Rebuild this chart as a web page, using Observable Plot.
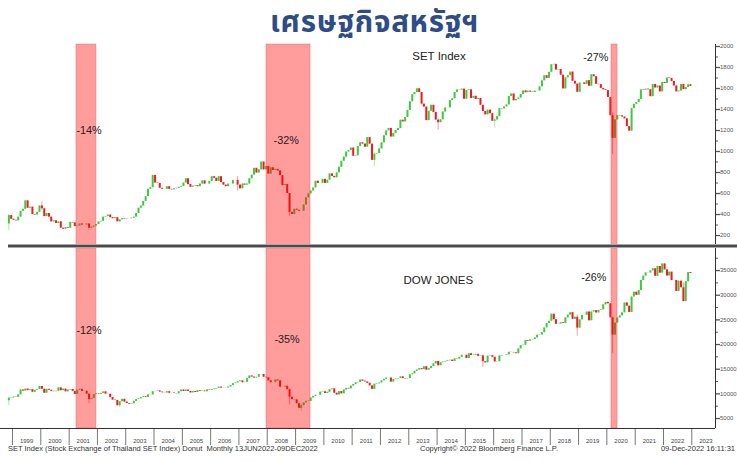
<!DOCTYPE html>
<html>
<head>
<meta charset="utf-8">
<script src="https://cdn.jsdelivr.net/npm/d3@7"></script>
<script src="https://cdn.jsdelivr.net/npm/@observablehq/plot@0.6"></script>
<style>
  html, body { margin: 0; padding: 0; background: #fff; }
  body { width: 737px; height: 462px; overflow: hidden; position: relative; font-family: "Liberation Sans", Arial, sans-serif; }
  #title { position: absolute; left: 12px; top: 0px; width: 725px; text-align: center;
           font-family: "Noto Sans Thai", "Noto Sans Thai Looped", "Noto Sans", sans-serif; font-weight: 700;
           font-size: 29.5px; line-height: 46px; letter-spacing: 0.7px; color: #2e4d87; }
  #top { position: absolute; left: 0; top: 40px; }
  #bot { position: absolute; left: 0; top: 248px; }
  #sep { position: absolute; left: 8px; top: 244px; width: 729px; height: 4px; z-index: 5;
         background: linear-gradient(#a8a8a8 0 1px, #4a4a4a 1px 3px, #a8a8a8 3px 4px); }
  .foot { position: absolute; top: 444px; font-size: 7.5px; line-height: 9px; color: #333; white-space: nowrap; }
</style>
</head>
<body>
<div id="title">เศรษฐกิจสหรัฐฯ</div>
<div id="top"></div>
<div id="sep"></div>
<div id="bot"></div>
<div class="foot" id="f1" style="left:8px">SET Index (Stock Exchange of Thailand SET Index) Donut&nbsp; Monthly 13JUN2022-09DEC2022</div>
<div class="foot" id="f2" style="left:420px">Copyright© 2022 Bloomberg Finance L.P.</div>
<div class="foot" id="f3" style="right:2px">09-Dec-2022 16:11:31</div>
<script>
// ---------------- DATA ----------------
const firstMonth = [1998, 10]; // Nov 1998 (year, zero-based month)
const years = ["1999","2000","2001","2002","2003","2004","2005","2006","2007","2008","2009","2010",
               "2011","2012","2013","2014","2015","2016","2017","2018","2019","2020","2021","2022","2023"];

// SET Index monthly closes, Nov 1998 .. Dec 2022
const setOpen0 = 310;
const setClose = [
  390, 355,
  345, 340, 375, 430, 450, 530, 460, 470, 400, 395, 420, 482,
  455, 380, 410, 375, 330, 340, 315, 330, 270, 260, 275, 269,
  325, 320, 285, 290, 310, 300, 300, 310, 270, 280, 290, 304,
  330, 335, 375, 380, 395, 370, 360, 370, 330, 350, 360, 356,
  360, 360, 365, 375, 410, 460, 480, 525, 570, 640, 655, 772,
  700, 695, 650, 640, 640, 665, 640, 635, 645, 650, 660, 668,
  700, 740, 685, 660, 670, 675, 665, 690, 720, 690, 690, 714,
  760, 745, 715, 760, 705, 680, 665, 690, 690, 725, 725, 680,
  645, 690, 680, 690, 740, 775, 840, 795, 825, 900, 825, 858,
  785, 845, 820, 830, 815, 770, 675, 685, 600, 420, 400, 450,
  440, 431, 431, 491, 560, 597, 624, 653, 717, 696, 697, 735,
  697, 727, 787, 763, 750, 797, 850, 907, 947, 995, 1009, 1033,
  955, 960, 1047, 1083, 1071, 1041, 1132, 1070, 916, 975, 980, 1025,
  1083, 1150, 1196, 1220, 1138, 1172, 1200, 1219, 1298, 1282, 1324, 1392,
  1474, 1541, 1561, 1597, 1562, 1451, 1423, 1294, 1383, 1440, 1372, 1299,
  1274, 1302, 1376, 1414, 1415, 1485, 1502, 1562, 1586, 1584, 1594, 1498,
  1581, 1587, 1505, 1526, 1496, 1505, 1440, 1381, 1349, 1394, 1360, 1288,
  1300, 1332, 1408, 1405, 1424, 1444, 1524, 1548, 1483, 1496, 1509, 1543,
  1577, 1560, 1575, 1566, 1562, 1575, 1576, 1616, 1673, 1721, 1697, 1754,
  1826, 1830, 1776, 1780, 1727, 1596, 1701, 1722, 1756, 1669, 1642, 1564,
  1653, 1653, 1639, 1674, 1622, 1730, 1712, 1640, 1637, 1601, 1588, 1580,
  1514, 1341, 1125, 1301, 1342, 1339, 1328, 1311, 1237, 1194, 1408, 1449,
  1466, 1496, 1587, 1583, 1594, 1588, 1522, 1638, 1605, 1623, 1568, 1658,
  1648, 1700, 1695, 1667, 1624, 1568, 1576, 1639, 1589, 1609, 1635, 1620
];

// Dow Jones monthly closes, Nov 1998 .. Dec 2022
const dowOpen0 = 8592;
const dowClose = [
  9116, 9181,
  9359, 9307, 9786, 10789, 10560, 10971, 10655, 10829, 10337, 10729, 10878, 11497,
  10941, 10128, 10922, 10734, 10522, 10448, 10522, 11215, 10651, 10971, 10415, 10788,
  10887, 10495, 9879, 10735, 10912, 10502, 10523, 9950, 8848, 9075, 9852, 10021,
  9920, 10106, 10404, 9946, 9925, 9243, 8737, 8664, 7592, 8397, 8896, 8342,
  8054, 7891, 7992, 8480, 8850, 8985, 9234, 9416, 9275, 9801, 9782, 10454,
  10488, 10584, 10358, 10226, 10188, 10435, 10140, 10174, 10080, 10027, 10428, 10783,
  10490, 10766, 10504, 10193, 10467, 10275, 10641, 10482, 10569, 10440, 10806, 10718,
  10865, 10993, 11109, 11367, 11168, 11150, 11186, 11381, 11679, 12081, 12222, 12463,
  12622, 12269, 12354, 13063, 13628, 13409, 13212, 13358, 13896, 13930, 13372, 13265,
  12650, 12266, 12263, 12820, 12638, 11350, 11378, 11544, 10851, 9325, 8829, 8776,
  8001, 7063, 7609, 8168, 8500, 8447, 9172, 9496, 9712, 9713, 10345, 10428,
  10067, 10325, 10857, 11009, 10137, 9774, 10466, 10015, 10788, 11118, 11006, 11578,
  11892, 12226, 12320, 12811, 12570, 12414, 12143, 11614, 10913, 11955, 12046, 12218,
  12633, 12952, 13212, 13214, 12393, 12880, 13009, 13091, 13437, 13096, 13026, 13104,
  13861, 14054, 14579, 14840, 15116, 14910, 15500, 14810, 15130, 15546, 16086, 16577,
  15699, 16322, 16458, 16581, 16717, 16827, 16563, 17098, 17043, 17391, 17828, 17823,
  17165, 18133, 17776, 17841, 18011, 17620, 17690, 16528, 16285, 17664, 17720, 17425,
  16466, 16517, 17685, 17774, 17787, 17930, 18432, 18401, 18308, 18142, 19124, 19763,
  19864, 20812, 20663, 20941, 21009, 21350, 21891, 21948, 22405, 23377, 24272, 24719,
  26149, 25029, 24103, 24163, 24416, 24271, 25415, 25965, 26458, 25116, 25538, 23327,
  24999, 25916, 25929, 26593, 24815, 26600, 26864, 26403, 26917, 27046, 28051, 28538,
  28256, 25409, 21917, 24346, 25383, 25813, 26428, 28430, 27782, 26502, 29638, 30606,
  29983, 30932, 32982, 33875, 34529, 34503, 34935, 35361, 33844, 35820, 34484, 36338,
  35132, 33893, 34678, 32977, 32990, 30775, 32845, 31510, 28726, 32733, 34590, 34400
];

// notable intramonth extremes (month, low, high)
const setWicks = [
  ["1998-11", 250, 400], ["2000-01", 440, 520], ["2006-12", 623, 760], ["2008-10", 384, 600],
  ["2011-10", 855, 990], ["2014-01", 1205, 1310], ["2016-01", 1224, 1320], ["2020-03", 969, 1365]
];
const dowWicks = [
  ["1998-11", 7640, 9380], ["2001-09", 8062, 9950], ["2002-10", 7197, 8440], ["2008-10", 7773, 10990],
  ["2009-03", 6470, 7925], ["2015-08", 15370, 17900], ["2018-12", 21713, 25980],
  ["2020-03", 18214, 25600], ["2022-09", 28660, 32500]
];

// shaded crisis periods
const bands = [
  {start: "2001-04-05", end: "2001-12-19"},
  {start: "2007-12-23", end: "2009-07-13"},
  {start: "2020-03-01", end: "2020-05-18"}
];

const setTitle = [{date: "2013-02-15", value: 1867, text: "SET Index"}];
const setPct = [
  {date: "2001-04-05", value: 1167, text: "-14%"},
  {date: "2008-03-23", value: 1067, text: "-32%"},
  {date: "2019-03-01", value: 1860, text: "-27%"}
];
const dowTitle = [{date: "2012-10-25", value: 32313, text: "DOW JONES"}];
const dowPct = [
  {date: "2001-04-05", value: 22238, text: "-12%"},
  {date: "2008-04-04", value: 20272, text: "-35%"},
  {date: "2019-02-04", value: 32982, text: "-26%"}
];

const setTicks = [200, 400, 600, 800, 1000, 1200, 1400, 1600, 1800, 2000];
const setMinor = [300, 500, 700, 900, 1100, 1300, 1500, 1700, 1900];
const dowTicks = [5000, 10000, 15000, 20000, 25000, 30000, 35000];
const dowMinor = [7500, 12500, 17500, 22500, 27500, 32500, 37500];

// ---------------- BUILD ----------------
const GREEN = "#3ec93e", RED = "#f21a1a";
const xDomain = [new Date("1998-07-30"), new Date("2023-11-03")];
const setDomain = [86, 2019];
const dowDomain = [2980, 39470];

function candles(open0, closes, wicks) {
  const wmap = new Map(wicks.map(w => [w[0], w]));
  return closes.map((c, i) => {
    const d = new Date(Date.UTC(firstMonth[0], firstMonth[1] + i, 15));
    const o = i === 0 ? open0 : closes[i - 1];
    const key = d.toISOString().slice(0, 7);
    const w = wmap.get(key);
    return {date: d, open: o, close: c, up: c >= o,
            low: w ? w[1] : Math.min(o, c), high: w ? w[2] : Math.max(o, c)};
  });
}
const setData = candles(setOpen0, setClose, setWicks);
const dowData = candles(dowOpen0, dowClose, dowWicks);
const bandData = bands.map(b => ({start: new Date(b.start), end: new Date(b.end)}));
const parse = arr => arr.map(a => ({...a, date: new Date(a.date)}));

function candleMarks(data) {
  return [
    Plot.ruleX(data.filter(d => d.up), {x: "date", y1: "low", y2: "high", stroke: GREEN, strokeWidth: 0.8, strokeOpacity: 0.55}),
    Plot.ruleX(data.filter(d => !d.up), {x: "date", y1: "low", y2: "high", stroke: RED, strokeWidth: 0.8, strokeOpacity: 0.55}),
    Plot.ruleX(data.filter(d => d.up), {x: "date", y1: "open", y2: "close", stroke: GREEN, strokeWidth: 2}),
    Plot.ruleX(data.filter(d => !d.up), {x: "date", y1: "open", y2: "close", stroke: RED, strokeWidth: 2}),
    Plot.rect(bandData, {x1: "start", x2: "end", fill: "#ff0000", fillOpacity: 0.39, stroke: "#ff4040", strokeOpacity: 0.35, strokeWidth: 1})
  ];
}

const textStyle = {fontFamily: "Liberation Sans, Arial, sans-serif", fill: "#222", textAnchor: "start", lineAnchor: "bottom"};
const axisFont = {fontSize: 6, fontFamily: "Liberation Sans, Arial, sans-serif"};

const topPlot = Plot.plot({
  width: 737, height: 207,
  marginLeft: 0, marginRight: 22, marginTop: 4, marginBottom: 0,
  style: {overflow: "visible", background: "transparent"},
  x: {type: "utc", domain: xDomain, axis: null},
  y: {domain: setDomain, axis: null},
  marks: [
    ...candleMarks(setData),
    Plot.axisY({anchor: "right", ticks: setTicks, tickSize: 4, tickPadding: 0.5, tickFormat: d => String(d),
                ...axisFont, color: "#555", label: null, strokeWidth: 1.3}),
    Plot.axisY({anchor: "right", ticks: setMinor, tickSize: 2, tickFormat: () => "", color: "#555", label: null}),
    Plot.ruleX([xDomain[1]], {stroke: "#333", strokeWidth: 1}),
    Plot.text(parse(setTitle), {x: "date", y: "value", text: "text", fontSize: 11.5, ...textStyle}),
    Plot.text(parse(setPct), {x: "date", y: "value", text: "text", fontSize: 10.8, ...textStyle})
  ]
});
document.getElementById("top").appendChild(topPlot);

const yearStarts = years.map(y => new Date(`${y}-01-01`));
const yearMids = years.map(y => new Date(`${y}-07-02`));

const botPlot = Plot.plot({
  width: 737, height: 198,
  marginLeft: 0, marginRight: 22, marginTop: 0, marginBottom: 18,
  style: {overflow: "visible", background: "transparent"},
  x: {type: "utc", domain: xDomain, axis: null},
  y: {domain: dowDomain, axis: null},
  marks: [
    ...candleMarks(dowData),
    Plot.axisY({anchor: "right", ticks: dowTicks, tickSize: 4, tickPadding: 0.5, tickFormat: d => String(d),
                ...axisFont, color: "#555", label: null, strokeWidth: 1.3}),
    Plot.axisY({anchor: "right", ticks: dowMinor, tickSize: 2, tickFormat: () => "", color: "#555", label: null}),
    Plot.axisX({anchor: "bottom", ticks: yearStarts, tickSize: 17, tickFormat: () => "", color: "#777", label: null}),
    Plot.axisX({anchor: "bottom", ticks: yearMids, tickSize: 0, tickPadding: 10, tickFormat: (d, i) => years[i],
                ...axisFont, color: "#444", label: null}),
    Plot.ruleX([xDomain[1]], {stroke: "#333", strokeWidth: 1}),
    Plot.ruleY([dowDomain[0]], {stroke: "#333", strokeWidth: 1}),
    Plot.text(parse(dowTitle), {x: "date", y: "value", text: "text", fontSize: 11.5, ...textStyle}),
    Plot.text(parse(dowPct), {x: "date", y: "value", text: "text", fontSize: 10.8, ...textStyle})
  ]
});
document.getElementById("bot").appendChild(botPlot);
</script>
</body>
</html>
